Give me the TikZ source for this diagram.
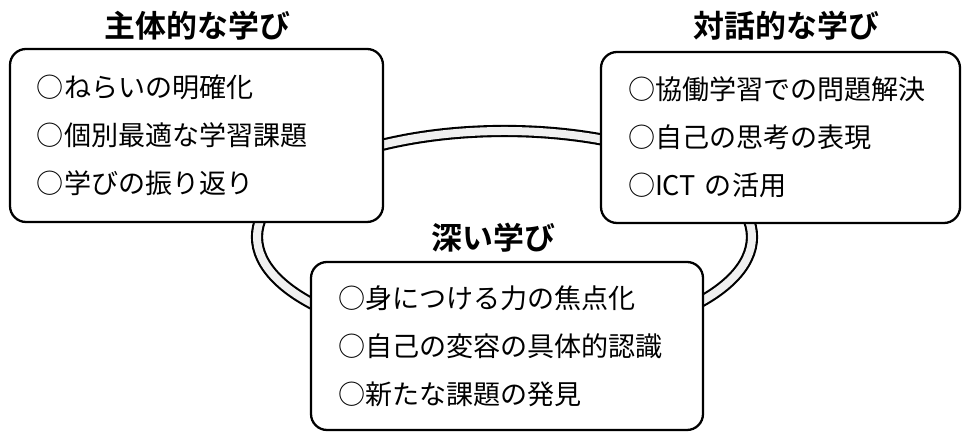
\documentclass[tikz,border=0pt]{standalone}
\usepackage{fontspec}
\usepackage{xcolor}
\usepackage{tikz}
\usetikzlibrary{positioning}
\newfontfamily\jpfont{Noto Sans CJK JP}
\newfontfamily\jpboldfont{Noto Sans CJK JP Bold}
\definecolor{ringgray}{HTML}{F0F0F0}

\begin{document}
\begin{tikzpicture}[
    ring/.style={draw=black,line width=1.2pt,double=ringgray,double distance=0.16cm},
    box/.style={draw=black,line width=1.3pt,rounded corners=0.32cm,fill=white,
      align=left,inner xsep=0.54cm,inner ysep=0pt,
      font=\jpfont\fontsize{15.4}{27.3}\selectfont},
    boxtitle/.style={font=\jpboldfont\fontsize{17.6}{20}\selectfont,inner sep=0pt},
  ]
    \useasboundingbox (0,0) rectangle (19.24,8.64);

    % ring behind the three boxes
    \coordinate (ringc) at (10.09,3.90);
    \draw[ring] (ringc) ellipse [x radius=4.95,y radius=2.12];

    \node[box,text width=6.38cm,minimum height=3.46cm] (active) at (3.93,5.93)
      {○ねらいの明確化\\○個別最適な学習課題\\○学びの振り返り};
    \node[box,text width=6.10cm,minimum height=3.42cm] (dialog) at (15.61,5.89)
      {○協働学習での問題解決\\○自己の思考の表現\\○ICT の活用};
    \node[box,text width=6.76cm,minimum height=3.36cm] (deep) at (10.14,1.72)
      {○身につける力の焦点化\\○自己の変容の具体的認識\\○新たな課題の発見};

    \node[boxtitle] (activetitle) at (3.95,8.13) {主体的な学び};
    \node[boxtitle] (dialogtitle) at (15.73,8.13) {対話的な学び};
    \node[boxtitle] (deeptitle) at (9.87,3.89) {深い学び};
  \end{tikzpicture}
\end{document}
